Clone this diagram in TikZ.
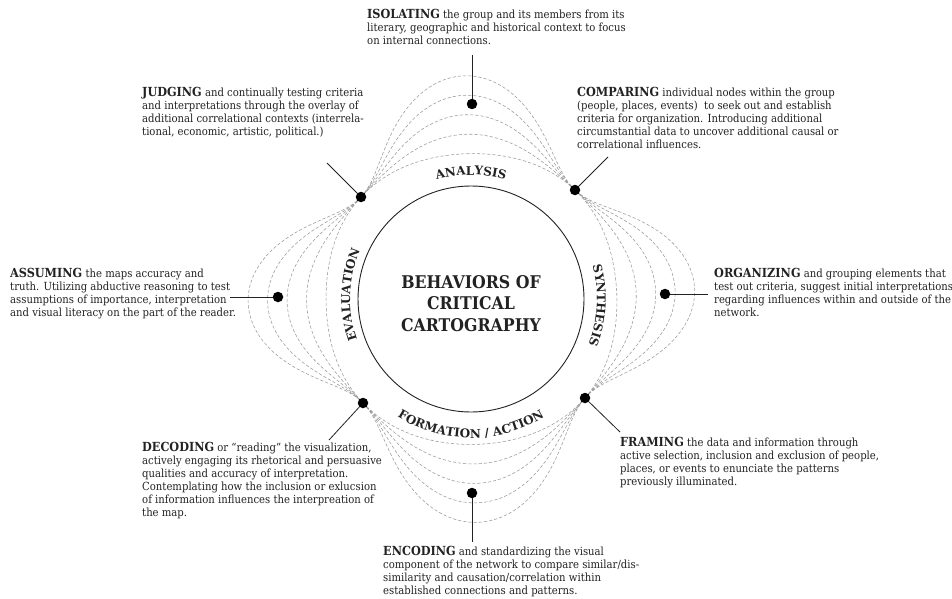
\documentclass[tikz,border=0pt]{standalone}
\usepackage{fontspec}
\setmainfont{DejaVu Serif}[FakeStretch=0.9]
\newfontfamily\lblfont{DejaVu Serif}
\usetikzlibrary{decorations.text}
\definecolor{ink}{HTML}{222222}
\definecolor{dashc}{HTML}{9A9A9A}
\tikzset{
  dot/.style={circle, fill=black, inner sep=0pt, minimum size=10.5pt},
  leader/.style={draw=ink, line width=0.8pt},
  dashcurve/.style={draw=dashc, line width=0.55pt, dash pattern=on 3.2pt off 2pt},
  body/.style={anchor=north west, align=left, inner sep=0pt, text=ink, font=\fontsize{11.2}{13}\selectfont},
  arclabel/.style={decorate, decoration={text along path, text align=center, text color=ink}},
}
\newcommand{\hd}[1]{{\fontsize{12.5}{13}\selectfont\bfseries #1}}
\newcommand{\lbl}{\lblfont\bfseries\fontsize{12}{14}\selectfont}
\begin{document}
\begin{tikzpicture}[x=1pt,y=1pt]
\useasboundingbox (0,0) rectangle (952,-599);
\fill[white] (0,0) rectangle (952,-599);
\coordinate (C) at (471,-299);

% dashed lobed curves
\foreach \A in {73,53.5,34,14.5,-5}{
  \foreach \a/\b/\ra/\rb in {-40.97/46.34/151/150.65, 46.34/137.16/150.65/150, 137.16/223.92/150/149.9, 223.92/319.03/149.9/151}{
    \draw[dashcurve] plot[domain=0:1, samples=60, smooth, variable=\u]
      ({471+(\ra+(\rb-\ra)*\u+(\A)*sin(180*\u)*sin(180*\u))*cos(\a+(\b-\a)*\u)},
       {-299+(\ra+(\rb-\ra)*\u+(\A)*sin(180*\u)*sin(180*\u))*sin(\a+(\b-\a)*\u)});
  }
}

% central circle
\node[circle, draw=ink, line width=0.9pt, minimum size=226pt, inner sep=0pt] (core) at (C) {};
\node[align=center, text=ink, font=\fontsize{17.5}{21.5}\selectfont\bfseries] (title) at (471,-303.5) {BEHAVIORS OF\\CRITICAL\\CARTOGRAPHY};

% curved labels
\path[arclabel, decoration={text={|\lbl|ANALYSIS}}]
  ([shift={(471,-299)}]130:124) arc[start angle=130, end angle=50, radius=124];
\path[arclabel, decoration={text={|\lbl|SYNTHESIS}}]
  ([shift={(471,-299)}]35:126) arc[start angle=35, end angle=-41, radius=126];
\path[arclabel, decoration={text={|\lbl|EVALUATION}}]
  ([shift={(471,-299)}]220:121) arc[start angle=220, end angle=136, radius=121];
\path[arclabel, decoration={text={|\lbl|FORMATION / ACTION}}]
  ([shift={(471,-299)}]215:139) arc[start angle=215, end angle=325, radius=139];

% leader end points
\coordinate (eT)  at (472,-55);
\coordinate (eTL) at (327,-163);
\coordinate (eTR) at (608,-157);
\coordinate (eL)  at (230,-297);
\coordinate (eR)  at (708,-294);
\coordinate (eBL) at (329,-440);
\coordinate (eBR) at (620,-432);
\coordinate (eB)  at (472,-542);

% dots
\node[dot] (dT)  at (472,-104) {};
\node[dot] (dTL) at (361,-197) {};
\node[dot] (dTR) at (575,-190) {};
\node[dot] (dL)  at (278,-297) {};
\node[dot] (dR)  at (665,-294) {};
\node[dot] (dBL) at (363,-403) {};
\node[dot] (dBR) at (585,-398) {};
\node[dot] (dB)  at (472,-493) {};

\draw[leader] (eT)  -- (dT);
\draw[leader] (eTL) -- (dTL);
\draw[leader] (eTR) -- (dTR);
\draw[leader] (eL)  -- (dL);
\draw[leader] (eR)  -- (dR);
\draw[leader] (eBL) -- (dBL);
\draw[leader] (eBR) -- (dBR);
\draw[leader] (eB)  -- (dB);

% text blocks
\node[body] (tIso) at (367,-9) {\hd{ISOLATING} the group and its members from its\\literary, geographic and historical context to focus\\on internal connections.};
\node[body] (tJud) at (142,-87) {\hd{JUDGING} and continually testing criteria\\and interpretations through the overlay of\\additional correlational contexts (interrela-\\tional, economic, artistic, political.)};
\node[body] (tCmp) at (577,-87) {\hd{COMPARING} individual nodes within the group\\(people, places, events)\ \ to seek out and establish\\criteria for organization. Introducing additional\\circumstantial data to uncover additional causal or\\correlational influences.};
\node[body] (tAss) at (10,-268) {\hd{ASSUMING} the maps accuracy and\\truth. Utilizing abductive reasoning to test\\assumptions of importance, interpretation\\and visual literacy on the part of the reader.};
\node[body] (tOrg) at (714,-268) {\hd{ORGANIZING} and grouping elements that\\test out criteria, suggest initial interpretations\\regarding influences within and outside of the\\network.};
\node[body] (tDec) at (142,-442) {\hd{DECODING} or “reading” the visualization,\\actively engaging its rhetorical and persuasive\\qualities and accuracy of interpretation.\\Contemplating how the inclusion or exlucsion\\of information influences the interpreation of\\the map.};
\node[body] (tFrm) at (620,-437) {\hd{FRAMING} the data and information through\\active selection, inclusion and exclusion of people,\\places, or events to enunciate the patterns\\previously illuminated.};
\node[body] (tEnc) at (383,-546) {\hd{ENCODING} and standardizing the visual\\component of the network to compare similar/dis-\\similarity and causation/correlation within\\established connections and patterns.};
\end{tikzpicture}
\end{document}
